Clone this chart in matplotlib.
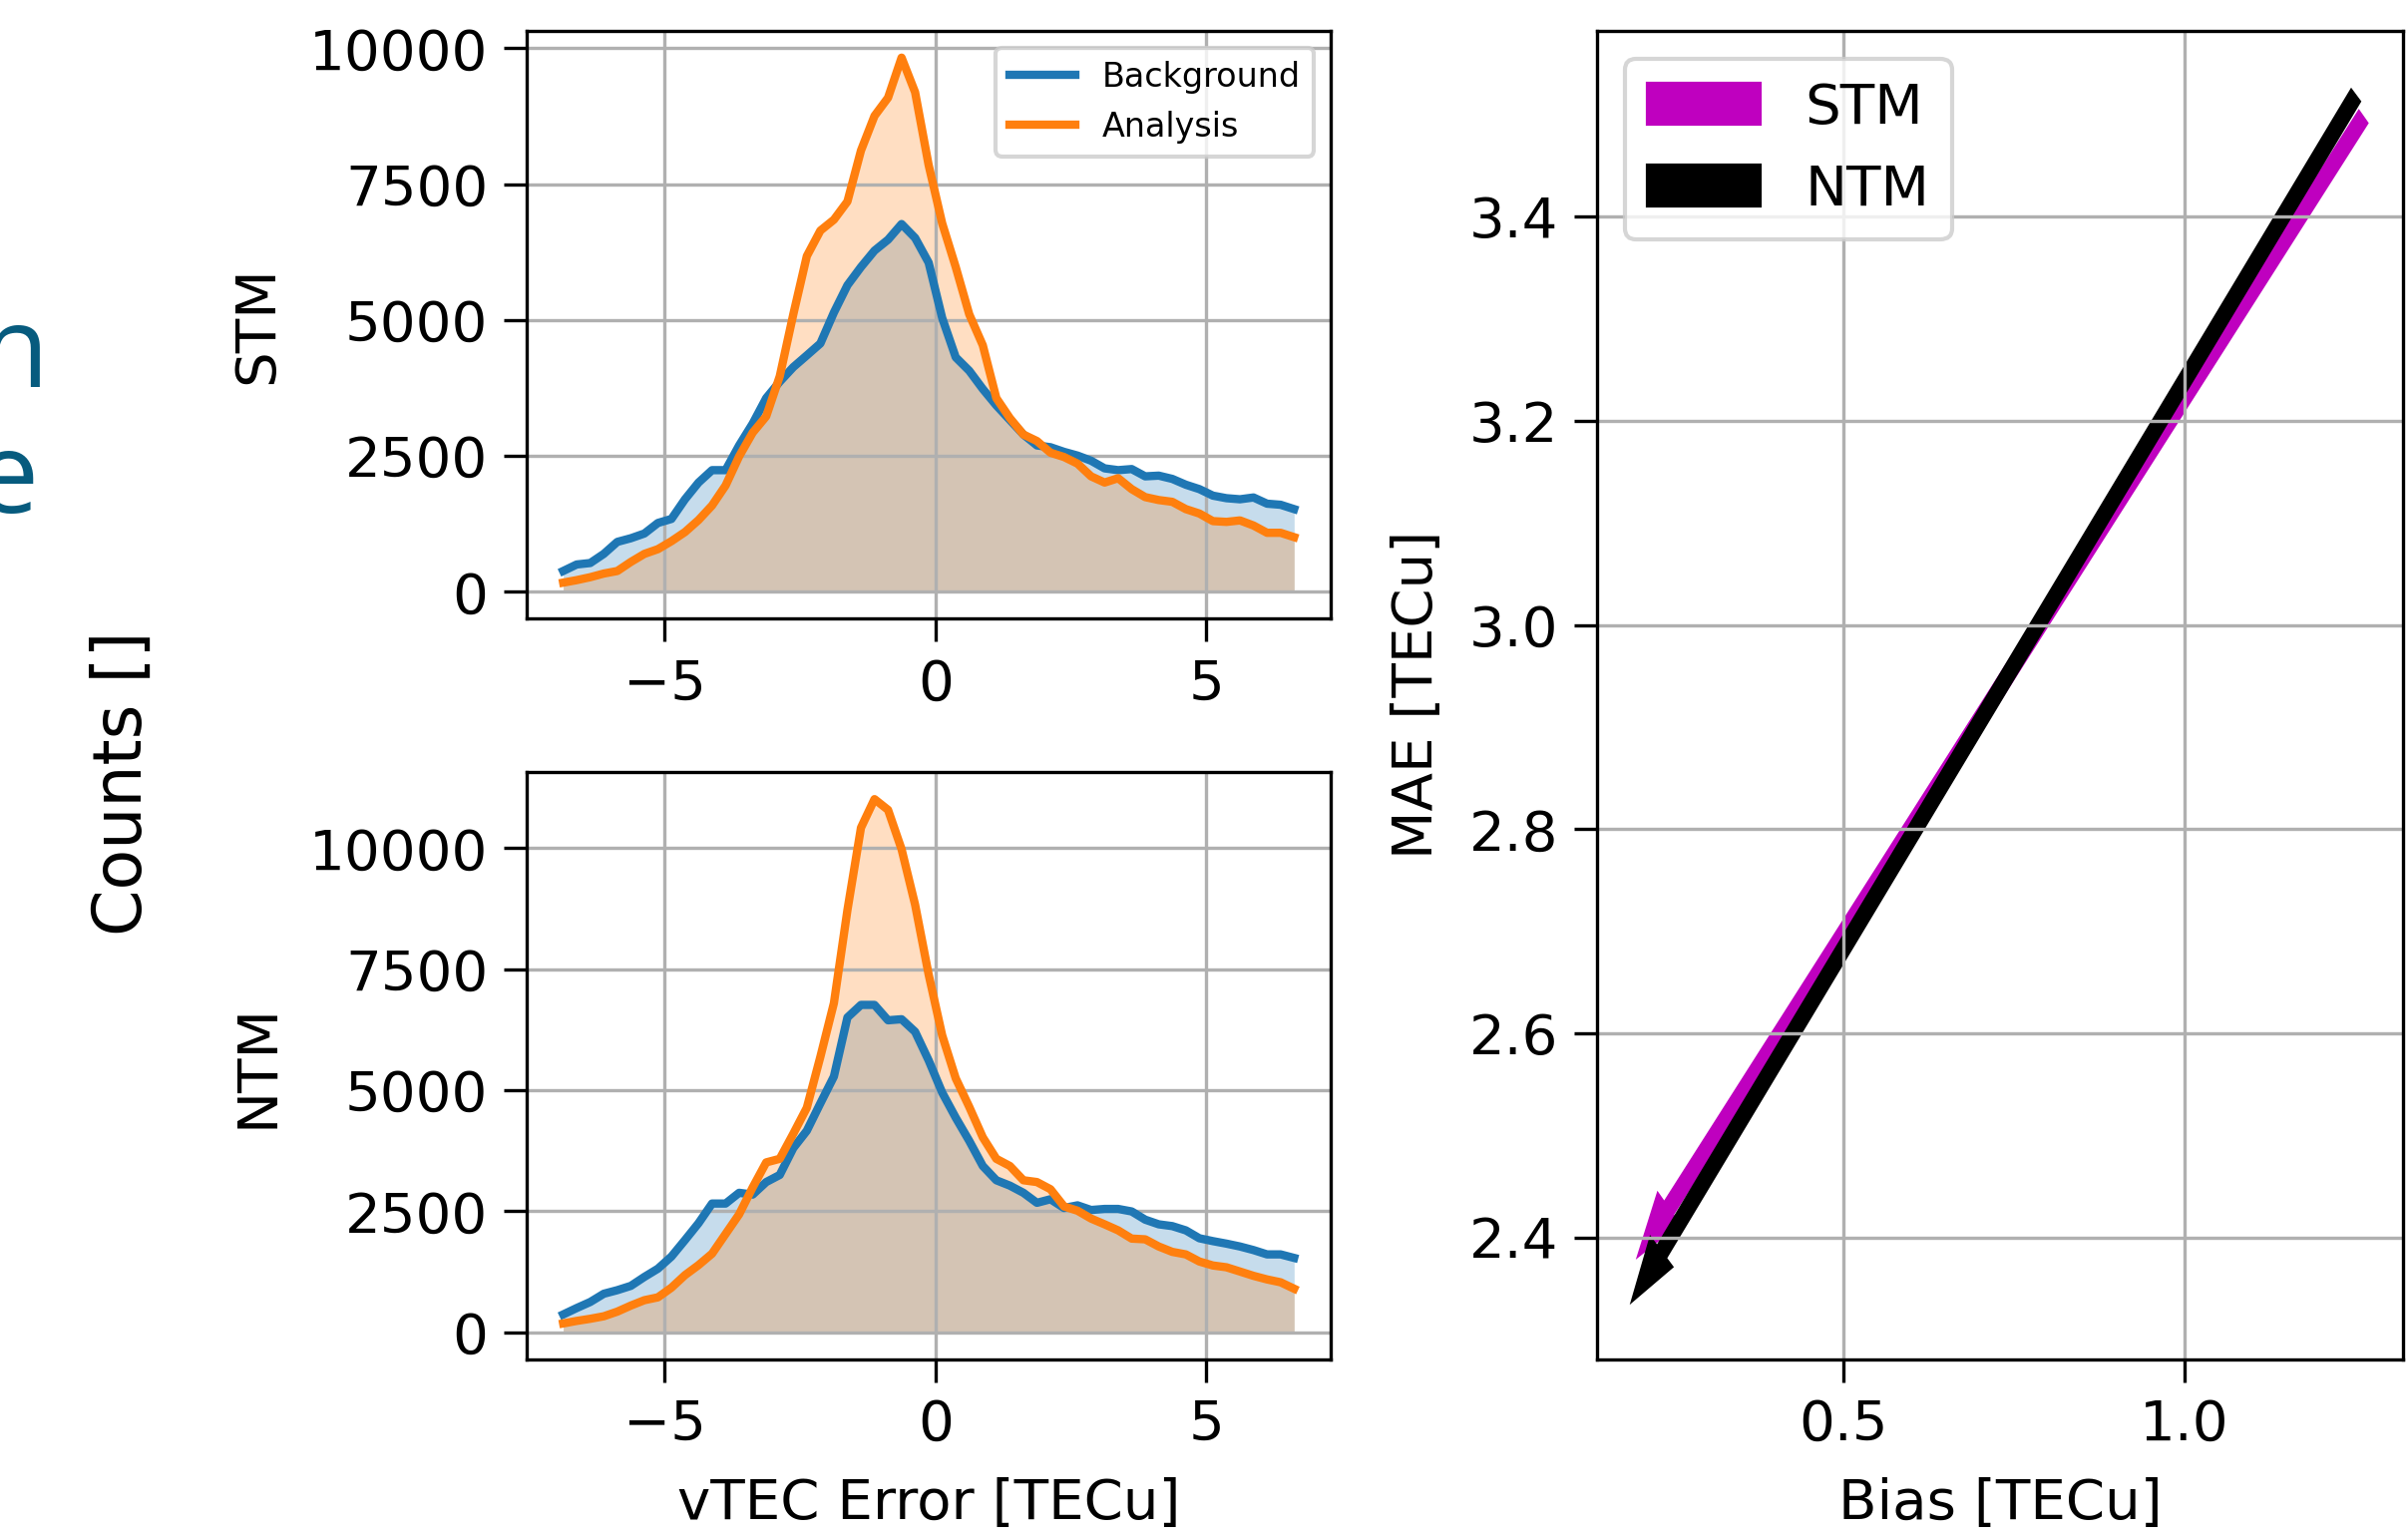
import numpy as np
import matplotlib
matplotlib.use("Agg")
import matplotlib.pyplot as plt

plt.rcParams['font.size'] = 13.5
plt.rcParams['xtick.major.size'] = 5.5
plt.rcParams['ytick.major.size'] = 5.5
plt.rcParams['xtick.major.pad'] = 4.0
plt.rcParams['ytick.major.pad'] = 3.8
plt.rcParams['axes.labelpad'] = 6.0

# bin edges of the vTEC error histograms (TECu)
bin_edges = np.arange(-7.0, 7.0 + 1e-9, 0.25)[:-1]
x_centers = 0.5 * (bin_edges[:-1] + bin_edges[1:])

stm_background = [382, 502, 529, 697, 918, 985, 1072, 1266, 1340, 1702, 2010, 2238, 2238, 2693,
                  3095, 3564, 3866, 4134, 4350, 4569, 5139, 5641, 5976, 6278, 6479, 6767, 6512,
                  6057, 5038, 4315, 4067, 3732, 3430, 3162, 2894, 2693, 2660, 2575, 2506, 2412,
                  2271, 2238, 2258, 2124, 2137, 2077, 1970, 1889, 1769, 1722, 1702, 1735, 1621,
                  1601, 1521]
stm_analysis = [168, 214, 268, 335, 382, 549, 697, 784, 931, 1099, 1320, 1588, 1956, 2492,
                2928, 3229, 3966, 5105, 6177, 6646, 6847, 7182, 8120, 8757, 9092, 9829, 9192,
                7852, 6780, 5976, 5105, 4536, 3564, 3196, 2894, 2774, 2559, 2480, 2358, 2124,
                2010, 2090, 1889, 1742, 1688, 1655, 1521, 1440, 1300, 1286, 1313, 1219, 1085,
                1085, 1005]
ntm_background = [370, 503, 628, 798, 872, 961, 1146, 1316, 1567, 1907, 2255, 2661, 2661, 2883,
                  2846, 3105, 3252, 3807, 4165, 4731, 5285, 6505, 6764, 6764, 6446, 6468, 6209,
                  5618, 4953, 4435, 3955, 3437, 3142, 3031, 2883, 2676, 2750, 2570, 2624, 2528,
                  2550, 2550, 2498, 2328, 2232, 2195, 2107, 1944, 1885, 1833, 1774, 1700, 1611,
                  1611, 1538]
ntm_analysis = [185, 237, 281, 333, 429, 554, 665, 724, 924, 1183, 1390, 1626, 2033, 2439,
                2994, 3511, 3585, 4103, 4640, 5692, 6801, 8723, 10423, 11014, 10792, 9979, 8833,
                7392, 6135, 5248, 4657, 4029, 3585, 3437, 3142, 3105, 2957, 2602, 2513, 2351,
                2232, 2107, 1937, 1922, 1774, 1663, 1611, 1464, 1382, 1345, 1257, 1168, 1094,
                1035, 902]

# Bias / MAE [TECu]: background -> analysis
models = ['STM', 'NTM']
model_colors = ['m', 'k']
bias_background = [1.261, 1.250]
mae_background = [3.497, 3.518]
bias_analysis = [0.201, 0.192]
mae_analysis = [2.384, 2.340]

W, H = 2414, 1544
fig = plt.figure(figsize=(W / 300, H / 300), dpi=300)

ax_top = fig.add_axes([0.2187, 0.5984, 0.3339, 0.3815])
ax_bot = fig.add_axes([0.2187, 0.1175, 0.3339, 0.3809])
ax_r = fig.add_axes([0.6632, 0.1175, 0.3347, 0.8624])

for ax, bg, an, name in [(ax_top, stm_background, stm_analysis, 'STM'),
                         (ax_bot, ntm_background, ntm_analysis, 'NTM')]:
    ax.plot(x_centers, bg, color='C0', lw=2, label='Background')
    ax.fill_between(x_centers, 0, bg, color='C0', alpha=0.25, lw=0)
    ax.plot(x_centers, an, color='C1', lw=2, label='Analysis')
    ax.fill_between(x_centers, 0, an, color='C1', alpha=0.25, lw=0)
    ax.set_ylabel(name)
    ax.grid(True)
    ax.set_xticks([-5, 0, 5])

ax_top.legend(loc='upper right', fontsize=8)
ax_bot.set_xlabel('vTEC Error [TECu]')

for i, name in enumerate(models):
    ax_r.arrow(bias_background[i], mae_background[i],
               bias_analysis[i] - bias_background[i],
               mae_analysis[i] - mae_background[i],
               width=0.015, head_width=0.04, head_length=0.06,
               length_includes_head=True, color=model_colors[i], label=name)
ax_r.legend(loc='upper left')
ax_r.grid(True)
ax_r.set_xlabel('Bias [TECu]')
ax_r.set_ylabel('MAE [TECu]')
ax_r.set_xticks([0.5, 1.0])
ax_r.set_yticks([2.4, 2.6, 2.8, 3.0, 3.2, 3.4])

fig.text(0.051, 0.4916, 'Counts []', rotation=90, fontsize=16, ha='center', va='center')

teal = '#075b7e'
fig.text(48 / W, 1 - 388 / H, 'n', fontsize=27, color=teal, ha='right', va='baseline',
         family='Open Sans')
fig.text(39 / W, 1 - 514 / H, 'e', fontsize=27, color=teal, ha='right', va='baseline',
         family='Open Sans')

fig.savefig('out.png', dpi=300)
